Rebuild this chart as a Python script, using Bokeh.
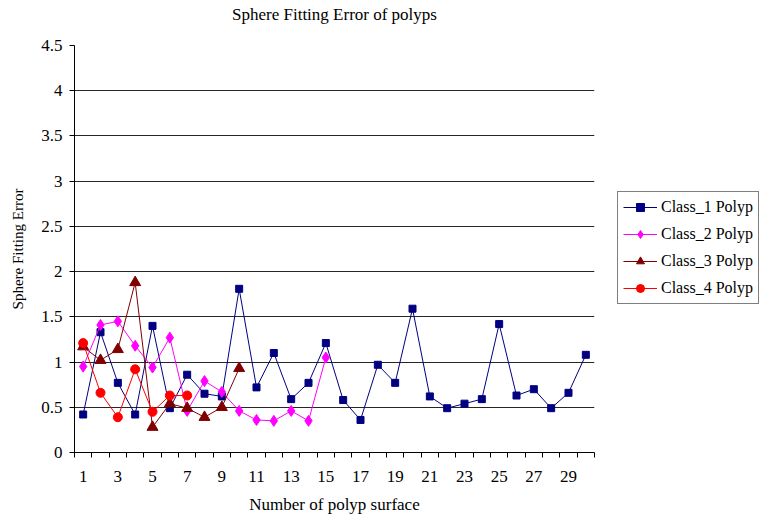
from bokeh.plotting import figure
from bokeh.models import (FixedTicker, PrintfTickFormatter, Legend, LegendItem,
                          Range1d, Title)
from bokeh.embed import file_html
from bokeh.resources import INLINE

title_text = "Sphere Fitting Error of polyps"
x_label = "Number of polyp surface"
y_label = "Sphere Fitting Error"

class1 = [0.42, 1.33, 0.77, 0.42, 1.40, 0.49, 0.86, 0.65, 0.62, 1.81,
          0.72, 1.10, 0.59, 0.77, 1.21, 0.58, 0.36, 0.97, 0.77, 1.59,
          0.62, 0.49, 0.54, 0.59, 1.42, 0.63, 0.70, 0.49, 0.66, 1.08]
class2 = [0.95, 1.41, 1.45, 1.18, 0.94, 1.27, 0.46, 0.79, 0.67, 0.46,
          0.36, 0.35, 0.46, 0.35, 1.05]
class3 = [1.17, 1.02, 1.14, 1.88, 0.28, 0.54, 0.49, 0.39, 0.50, 0.93]
class4 = [1.21, 0.66, 0.39, 0.92, 0.45, 0.63, 0.63]

names = ["Class_1 Polyp", "Class_2 Polyp", "Class_3 Polyp", "Class_4 Polyp"]
x_tick_labels = list(range(1, 30, 2))
y_ticks = [0, 0.5, 1, 1.5, 2, 2.5, 3, 3.5, 4, 4.5]

FONT = "Liberation Serif"
FS = "17px"

p = figure(frame_width=520, frame_height=407, output_backend="svg", toolbar_location=None,
           x_range=Range1d(0.5, 30.5), y_range=Range1d(0, 4.5),
           min_border_left=74, min_border_top=45, min_border_bottom=68,
           min_border_right=168)
p.outline_line_color = None
p.background_fill_color = "white"
p.title.text = ""

# spacer first (closest to the frame), then the real title above it
spacer = Title(text=" ", text_font_size="1px", text_color="white", standoff=19)
p.add_layout(spacer, "above")
main_title = Title(text=title_text, text_font=FONT, text_font_style="normal",
                   text_font_size=FS, align="center", standoff=0,
                   text_color="black")
p.add_layout(main_title, "above")

# axes
p.xaxis.ticker = FixedTicker(ticks=x_tick_labels,
                             minor_ticks=[i + 0.5 for i in range(0, 31)])
p.xaxis.major_tick_line_color = None
p.xaxis.major_tick_out = 5
p.xaxis.minor_tick_line_color = "black"
p.xaxis.minor_tick_out = 5
p.xaxis.minor_tick_in = 0
p.xaxis.axis_line_color = "black"
p.xaxis.major_label_standoff = 13
p.xaxis.axis_label = x_label
p.xaxis.axis_label_standoff = 10

p.yaxis.ticker = FixedTicker(ticks=y_ticks, minor_ticks=[])
p.yaxis.formatter = PrintfTickFormatter(format="%g")
p.yaxis.major_tick_out = 5
p.yaxis.major_tick_in = 0
p.yaxis.major_tick_line_color = "black"
p.yaxis.axis_line_color = "black"
p.yaxis.major_label_standoff = 7
p.yaxis.axis_label = y_label
p.yaxis.axis_label_standoff = 12

for ax in (p.xaxis, p.yaxis):
    ax.major_label_text_font = FONT
    ax.major_label_text_font_size = FS
    ax.major_label_text_color = "black"
    ax.axis_label_text_font = FONT
    ax.axis_label_text_font_size = FS
    ax.axis_label_text_font_style = "normal"
    ax.axis_label_text_color = "black"
p.yaxis.axis_label_text_font_size = "15px"

p.xgrid.grid_line_color = None
p.ygrid.ticker = FixedTicker(ticks=y_ticks)
p.ygrid.grid_line_color = "black"
p.ygrid.grid_line_width = 1
p.ygrid.grid_line_alpha = 0.85

series = [
    (class1, "#000080", "square", 7),
    (class2, "#FF00FF", "diamond", 11),
    (class3, "#800000", "triangle", 11),
    (class4, "#FF0000", "circle", 9),
]

items = []
for (vals, color, marker, size), name in zip(series, names):
    xs = list(range(1, len(vals) + 1))
    ln = p.line(xs, vals, line_color=color, line_width=1)
    sc = p.scatter(xs, vals, marker=marker, size=size,
                   fill_color=color, line_color=color)
    items.append(LegendItem(label=name, renderers=[ln, sc]))

legend = Legend(items=items, location=(23, 148), margin=0)
legend.label_text_font = FONT
legend.label_text_font_size = "16px"
legend.label_text_color = "black"
legend.border_line_color = "black"
legend.border_line_width = 1
legend.background_fill_color = "white"
legend.glyph_width = 34
legend.glyph_height = 20
legend.label_height = 20
legend.label_standoff = 4
legend.spacing = 7
legend.padding = 5
p.add_layout(legend, "right")

open("out.html", "w").write(file_html(p, INLINE))
